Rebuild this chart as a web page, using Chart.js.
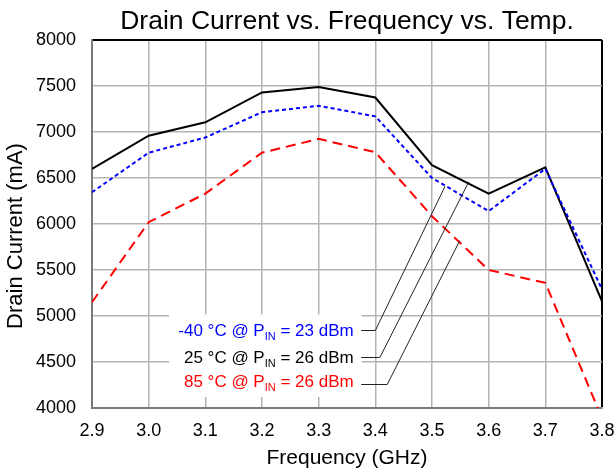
<!DOCTYPE html>
<html>
<head>
<meta charset="utf-8">
<script src="https://cdn.jsdelivr.net/npm/chart.js@4.4.1/dist/chart.umd.min.js"></script>
<style>
html, body { margin: 0; padding: 0; background: #fff; }
#wrap { width: 616px; height: 470px; }
</style>
</head>
<body>
<div id="wrap"><canvas id="chart" width="616" height="470"></canvas></div>
<script>
// values (mA)
const frequencies = [2.9, 3.0, 3.1, 3.2, 3.3, 3.4, 3.5, 3.6, 3.7, 3.8];
const currentCold = [6345, 6775, 6940, 7215, 7285, 7170, 6500, 6140, 6600, 5290];
const currentRoom = [6600, 6960, 7105, 7430, 7490, 7375, 6640, 6330, 6615, 5160];
const currentHot = [5150, 6020, 6330, 6775, 6925, 6780, 6085, 5500, 5360, 3890];

const seriesLabels = [
    ['-40 °C @ P', 'IN', ' = 23 dBm'],
    ['25 °C @ P', 'IN', ' = 26 dBm'],
    ['85 °C @ P', 'IN', ' = 26 dBm']
];
const seriesColors = ['#0000ff', '#000000', '#ff0000'];

// label baselines and leader lines (data units): label y, elbow x, tip x, tip y
const textBaseY = [4784, 4493, 4225];
const leaderLabelY = [4850, 4550, 4260];
const leaderElbowX = [3.4, 3.408, 3.421];
const leaderTipX = [3.523, 3.565, 3.549];
const leaderTipY = [6410, 6460, 5820];

const FONT = "Arial, 'Liberation Sans', sans-serif";

const annotations = {
    id: 'annotations',
    beforeDatasetsDraw(chart) {
        const { ctx } = chart;
        const x = chart.scales.x, y = chart.scales.y;
        // white box behind the labels
        const left = x.getPixelForValue(3.036), right = x.getPixelForValue(3.376);
        const top = y.getPixelForValue(5015), bottom = y.getPixelForValue(4120);
        ctx.save();
        ctx.fillStyle = '#fff';
        ctx.fillRect(left, top, right - left, bottom - top);
        ctx.restore();
    },
    afterDatasetsDraw(chart) {
        const { ctx } = chart;
        const x = chart.scales.x, y = chart.scales.y;
        const textRight = x.getPixelForValue(3.36) + 1;
        ctx.save();
        // leader lines
        ctx.strokeStyle = '#222';
        ctx.lineWidth = 1;
        for (let i = 0; i < seriesLabels.length; i++) {
            const ly = Math.round(y.getPixelForValue(leaderLabelY[i])) + 0.5;
            ctx.beginPath();
            ctx.moveTo(x.getPixelForValue(3.375), ly);
            ctx.lineTo(x.getPixelForValue(leaderElbowX[i]), ly);
            ctx.lineTo(x.getPixelForValue(leaderTipX[i]), y.getPixelForValue(leaderTipY[i]));
            ctx.stroke();
        }
        // label text with subscript
        ctx.textBaseline = 'alphabetic';
        ctx.textAlign = 'left';
        for (let i = 0; i < seriesLabels.length; i++) {
            const [a, sub, b] = seriesLabels[i];
            const base = y.getPixelForValue(textBaseY[i]);
            ctx.font = '17px ' + FONT;
            const wa = ctx.measureText(a).width, wb = ctx.measureText(b).width;
            ctx.font = '11px ' + FONT;
            const ws = ctx.measureText(sub).width;
            let px = textRight - (wa + ws + wb);
            ctx.fillStyle = seriesColors[i];
            ctx.font = '17px ' + FONT;
            ctx.fillText(a, px, base);
            px += wa;
            ctx.font = '11px ' + FONT;
            ctx.fillText(sub, px, base + 4);
            px += ws;
            ctx.font = '17px ' + FONT;
            ctx.fillText(b, px, base);
        }
        ctx.restore();
    },
    afterDraw(chart) {
        const { ctx, chartArea } = chart;
        const cx = (chartArea.left + chartArea.right) / 2;
        ctx.save();
        ctx.fillStyle = '#000';
        ctx.textAlign = 'center';
        ctx.textBaseline = 'middle';
        ctx.font = '26.5px ' + FONT;
        ctx.fillText('Drain Current vs. Frequency vs. Temp.', cx, 22);
        ctx.font = '21px ' + FONT;
        ctx.fillText('Frequency (GHz)', cx, 458);
        ctx.translate(16, 236);
        ctx.rotate(-Math.PI / 2);
        ctx.font = '22px ' + FONT;
        ctx.fillText('Drain Current (mA)', 0, 0);
        ctx.restore();
    }
};

const ctx = document.getElementById('chart').getContext('2d');
const chart = new Chart(ctx, {
    type: 'line',
    data: {
        labels: frequencies,
        datasets: [{
            label: '-40 °C',
            data: currentCold,
            borderColor: seriesColors[0],
            borderWidth: 2,
            borderDash: [4, 3]
        }, {
            label: '25 °C',
            data: currentRoom,
            borderColor: seriesColors[1],
            borderWidth: 2
        }, {
            label: '85 °C',
            data: currentHot,
            borderColor: seriesColors[2],
            borderWidth: 2,
            borderDash: [10, 6]
        }]
    },
    options: {
        responsive: false,
        animation: false,
        devicePixelRatio: 1,
        layout: { padding: { top: 40, right: 14, left: 0, bottom: 0 } },
        elements: { point: { radius: 0 }, line: { tension: 0 } },
        datasets: { line: { clip: 0 } },
        plugins: {
            legend: { display: false },
            tooltip: { enabled: false },
            title: { display: false }
        },
        scales: {
            x: {
                type: 'linear',
                min: 2.9,
                max: 3.8,
                afterFit(scale) {
                    scale.height = 62;
                    scale.paddingLeft = 0;
                    scale.paddingRight = 0;
                },
                ticks: {
                    stepSize: 0.1,
                    autoSkip: false,
                    color: '#000',
                    padding: 12,
                    maxRotation: 0,
                    font: { family: FONT, size: 18 },
                    callback: v => v.toFixed(1)
                },
                grid: {
                    drawTicks: false,
                    color: c => c.tick && c.tick.value >= 3.8 - 1e-9 ? '#000' : '#b4b4b4',
                    lineWidth: c => c.tick && c.tick.value >= 3.8 - 1e-9 ? 2 : 1.5
                },
                border: { color: '#7a7a7a', width: 2 }
            },
            y: {
                min: 4000,
                max: 8000,
                afterFit(scale) {
                    scale.width = 92;
                    scale.paddingTop = 0;
                    scale.paddingBottom = 0;
                },
                ticks: {
                    stepSize: 500,
                    autoSkip: false,
                    color: '#000',
                    padding: 16,
                    font: { family: FONT, size: 18 },
                    callback: v => String(v)
                },
                grid: {
                    drawTicks: false,
                    color: c => c.tick && c.tick.value === 8000 ? '#000' : '#b4b4b4',
                    lineWidth: c => c.tick && c.tick.value === 8000 ? 2 : 1.5
                },
                border: { color: '#7a7a7a', width: 2 }
            }
        }
    },
    plugins: [annotations]
});
</script>
</body>
</html>
